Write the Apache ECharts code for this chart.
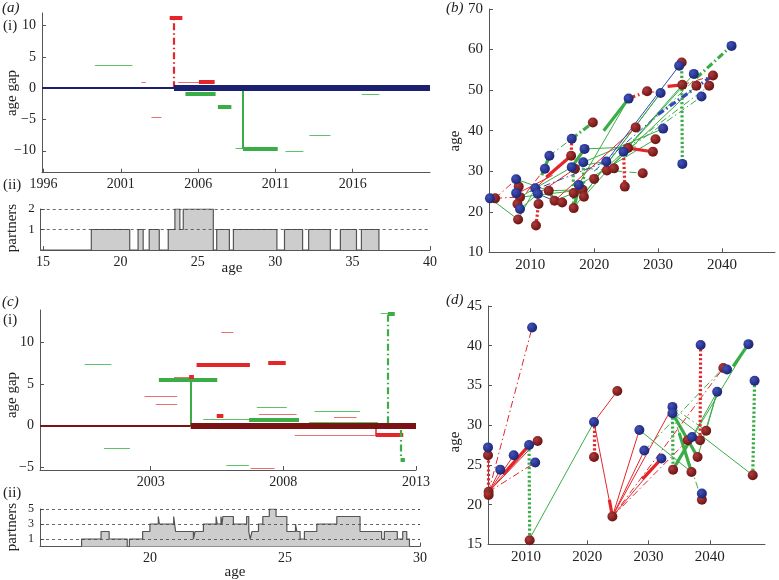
<!DOCTYPE html>
<html><head><meta charset="utf-8">
<script src="https://cdn.jsdelivr.net/npm/echarts@6/dist/echarts.min.js"></script>
<style>html,body{margin:0;padding:0;background:#fff}#c{width:779px;height:580px}</style>
</head><body><div id="c"></div>
<script>
// ---------- panel (a)(i): age gap segments [start year, end year, gap] ----------
const aXTicks = [1996, 2001, 2006, 2011, 2016];
const aYTicks = [-10, -5, 0, 5, 10];
const aBaseThin = [[1995.9, 2004.44, 0]];
const aBaseThick = [[2004.44, 2021.0, 0]];
const aGreenThin = [[1999.32, 2001.75, 3.6], [2008.42, 2008.9, -9.66], [2011.65, 2012.81, -10.0], [2013.2, 2014.56, -7.47], [2016.58, 2017.72, -0.9]];
const aGreenThick = [[2005.18, 2007.13, -0.9], [2007.28, 2008.15, -3.0], [2008.9, 2011.15, -9.7]];
const aRedThin = [[2002.33, 2002.61, 0.9], [2002.98, 2003.63, -4.6], [2004.7, 2006.1, 1.0]];
const aRedThick = [[2004.16, 2004.98, 11.2], [2006.05, 2007.07, 1.0]];
// verticals [year, from gap, to gap]
const aRedDashDotV = [[2004.44, 0, 11.2]];
const aGreenSolidV = [[2008.9, 0, -9.7]];

// ---------- panel (a)(ii): partner count steps ----------
const aAgeTicks = [15, 20, 25, 30, 35, 40];
const aStepAge = [18.12, 20.60, 21.14, 21.47, 21.86, 22.51, 23.09, 23.52, 23.84, 24.06, 26.00, 26.22, 27.04, 27.30, 30.11, 30.60, 31.77, 32.16, 33.56, 34.21, 35.25, 35.57, 36.70];
const aStepCount = [1, 0, 1, 0, 1, 0, 1, 2, 1, 2, 0, 1, 0, 1, 0, 1, 0, 1, 0, 1, 0, 1, 0];
const aPartnerTicks = [1, 2];

// ---------- panel (b): network (year, age) ----------
const bXTicks = [2010, 2020, 2030, 2040];
const bBlue = [[2003.7,23.3],[2007.8,28.0],[2007.8,24.6],[2008.4,20.7],[2010.8,25.8],[2011.2,24.4],[2012.3,30.6],[2013.0,33.8],[2016.5,38.0],[2016.5,31.0],[2017.6,26.6],[2018.3,32.2],[2018.5,35.5],[2021.9,32.4],[2024.6,34.8],[2025.4,47.9],[2030.4,49.3],[2030.8,40.5],[2033.3,56.0],[2033.8,31.8],[2035.6,54.0],[2036.8,48.4],[2041.5,60.9]];
const bMaroon = [[2004.5,23.3],[2008.2,26.2],[2008.4,23.6],[2008.0,21.9],[2008.1,18.1],[2011.3,21.9],[2010.9,16.6],[2012.9,25.2],[2013.8,22.7],[2015.0,22.3],[2016.4,33.8],[2017.0,30.6],[2016.8,24.6],[2018.2,25.4],[2018.4,23.7],[2016.8,20.9],[2020.0,28.1],[2019.8,42.0],[2022.0,30.2],[2023.1,30.7],[2024.8,26.2],[2025.3,35.7],[2026.5,40.8],[2027.6,29.5],[2028.3,49.7],[2029.2,34.8],[2029.6,37.9],[2033.7,56.8],[2033.8,51.3],[2036.0,51.1],[2038.0,51.1],[2038.6,53.6]];
// links [x1, y1, x2, y2]
const bGreenThin = [[2003.7,23.3,2008.1,18.1],[2007.8,28.0,2012.9,25.2],[2008.4,20.7,2011.2,24.4],[2008.4,23.6,2016.5,31.0],[2008.4,23.6,2018.2,25.4],[2008.1,18.1,2010.8,25.8],[2016.8,24.6,2025.4,47.9],[2016.8,20.9,2030.4,49.3],[2017.6,26.6,2029.6,37.9],[2018.3,32.2,2030.8,40.5],[2018.4,23.7,2035.6,54.0],[2022.0,30.2,2036.0,51.1],[2024.6,34.8,2033.8,51.3],[2016.5,31.0,2021.9,32.4],[2018.5,35.5,2026.5,36.0],[2019.0,25.5,2030.4,49.3],[2013.8,22.7,2016.8,24.6],[2012.9,25.2,2018.2,25.4],[2020.0,28.1,2024.6,34.8]];
const bGreenThick = [[2011.8,29.0,2013.0,33.8],[2016.5,31.0,2018.5,35.5],[2012.9,25.2,2013.8,22.7],[2021.5,40.0,2025.4,47.9],[2016.8,20.9,2017.8,27.0]];
const bGreenDashDot = [[2013.0,33.8,2016.5,38.0],[2016.5,31.0,2027.6,29.5],[2025.0,35.5,2038.0,51.1],[2024.0,34.0,2036.8,48.4],[2025.0,36.0,2036.0,53.0]];
const bGreenDashDotThick = [[2016.5,38.0,2019.8,42.0],[2036.0,53.0,2041.5,60.9]];
const bGreenDotted = [[2033.7,56.8,2033.8,31.8],[2016.8,20.9,2016.7,31.0],[2018.4,23.7,2018.3,32.2]];
const bRedThin = [[2010.8,25.8,2016.4,33.8],[2013.8,22.7,2026.5,40.8],[2008.0,24.5,2013.5,29.0],[2011.2,24.4,2017.0,30.6]];
const bRedDashDot = [[2004.5,23.3,2007.8,28.0],[2008.0,21.9,2012.3,30.6],[2028.3,49.7,2030.4,49.3],[2033.8,51.3,2038.6,53.6],[2004.5,23.3,2008.0,23.6]];
const bRedThick = [[2012.5,28.5,2016.4,33.8],[2025.3,35.7,2029.2,34.8],[2031.5,50.9,2033.8,51.3]];
const bRedDashDotThick = [[2025.4,47.9,2028.3,49.7]];
const bRedDotted = [[2016.5,38.0,2016.4,33.8],[2010.9,16.6,2011.3,21.9],[2024.8,26.2,2024.6,34.8],[2008.0,21.9,2008.2,26.2]];
const bBlueThin = [[2021.9,32.4,2033.3,56.0],[2011.2,24.4,2013.8,22.7]];
const bBlueDashDot = [[2010.0,25.0,2021.9,32.4],[2020.0,30.0,2030.0,44.0]];
const bBlueDashDotThick = [[2030.0,44.0,2038.6,53.6]];

// ---------- panel (c)(i) ----------
const cXTicks = [2003, 2008, 2013];
const cYTicks = [-5, 0, 5, 10];
const cBaseThin = [[1998.83, 2004.51, 0]];
const cBaseThick = [[2004.51, 2013.0, 0]];
const cGreenThin = [[2000.51, 2001.52, 7.28], [2001.24, 2002.22, -2.64], [2004.98, 2006.71, 0.72], [2007.0, 2008.13, 2.24], [2009.18, 2010.89, 1.68], [2008.97, 2011.57, 0.48], [2011.67, 2011.94, 13.4], [2005.85, 2006.7, -4.7]];
const cGreenThick = [[2003.31, 2005.51, 5.44], [2006.71, 2008.59, 0.72], [2011.94, 2012.2, 13.4], [2012.42, 2012.58, -4.0]];
const cRedThin = [[2002.77, 2004.0, 3.48], [2003.19, 2004.0, 2.56], [2003.88, 2004.63, 5.76], [2005.66, 2006.12, 11.16], [2007.08, 2008.5, 1.36], [2009.91, 2010.76, 0.96], [2008.43, 2011.52, -1.12], [2006.77, 2007.67, -5.05]];
const cRedThick = [[2004.45, 2004.63, 5.8], [2004.73, 2006.74, 7.28], [2005.49, 2005.74, 1.2], [2007.43, 2008.09, 7.52], [2011.48, 2012.52, -1.12]];
const cGreenSolidV = [[2004.51, 0, 5.44]];
const cRedSolidV = [[2011.48, 0, -1.12]];
const cGreenDashDotV = [[2011.94, 0.3, 13.4], [2012.42, -0.5, -4.0]];

// ---------- panel (c)(ii) ----------
const cAgeTicks = [20, 25, 30];
const cStepAge = [17.47, 18.19, 18.49, 19.16, 19.24, 19.73, 20.0, 20.31, 20.35, 20.88, 20.95, 21.61, 21.67, 21.98, 22.45, 22.49, 22.63, 22.67, 22.70, 23.09, 23.58, 23.66, 23.71, 23.78, 24.02, 24.18, 24.42, 24.67, 25.07, 25.39, 25.44, 25.56, 25.72, 26.18, 26.92, 27.78, 28.58, 28.68, 29.16, 29.36, 29.51, 29.61];
const cStepCount = [1, 2, 1, 0, 1, 2, 3, 4, 3, 4, 2, 1, 2, 3, 4, 3, 4, 3, 4, 3, 4, 2, 1, 2, 3, 4, 5, 4, 2, 3, 2, 1, 2, 3, 4, 2, 1, 2, 1, 2, 1, 0];
const cPartnerTicks = [1, 3, 5];

// ---------- panel (d) ----------
const dXTicks = [2010, 2020, 2030, 2040];
const dBlue = [[2003.8,27.2],[2005.8,24.4],[2008.0,26.2],[2010.5,27.5],[2011.5,25.3],[2011.0,42.3],[2021.1,30.4],[2028.5,29.4],[2029.3,26.8],[2032.1,25.8],[2033.9,32.3],[2033.9,31.5],[2037.1,28.5],[2038.5,40.1],[2038.7,21.4],[2041.2,34.2],[2042.8,37.0],[2046.3,40.2],[2047.3,35.6]];
const dMaroon = [[2003.8,26.2],[2003.9,21.6],[2003.9,21.2],[2011.9,28.0],[2010.6,15.5],[2024.9,34.3],[2021.1,26.0],[2024.1,18.5],[2034.0,24.4],[2036.4,28.1],[2037.0,24.1],[2038.0,26.0],[2038.4,28.1],[2038.7,20.6],[2039.4,29.3],[2042.2,37.2],[2047.0,23.7]];
const dRedThin = [[2003.9,21.6,2005.8,24.4],[2003.9,21.6,2008.0,26.2],[2003.9,21.6,2010.5,27.5],[2021.1,30.4,2024.1,18.5],[2021.1,30.4,2024.9,34.3],[2024.1,18.5,2028.5,29.4],[2024.1,18.5,2029.3,26.8],[2024.1,18.5,2033.9,32.3],[2024.1,18.5,2032.1,25.8],[2003.9,21.6,2011.9,28.0]];
const dRedThick = [[2006.3,23.8,2010.3,27.3],[2029.0,23.2,2032.0,25.7],[2023.6,20.6,2024.1,18.5]];
const dRedDashDot = [[2003.9,21.6,2011.0,42.3],[2003.9,21.6,2011.5,25.3],[2024.1,18.5,2042.2,37.2],[2024.1,18.5,2036.4,28.1]];
const dRedDotted = [[2003.8,27.2,2003.8,21.6],[2021.1,30.4,2021.1,26.0],[2038.5,40.1,2038.4,28.1]];
const dGreenThin = [[2010.5,27.5,2011.9,28.0],[2010.6,15.7,2021.1,30.4],[2028.5,29.4,2037.0,24.1],[2033.9,31.5,2047.0,23.7],[2034.0,24.4,2046.3,40.2],[2038.0,26.0,2041.2,34.2],[2039.4,29.3,2041.2,34.2],[2037.1,28.5,2041.2,34.2]];
const dGreenThick = [[2034.0,24.4,2037.1,28.5],[2033.9,31.5,2038.0,26.0],[2043.8,37.4,2046.3,40.2],[2035.0,29.0,2037.0,24.1]];
const dGreenDashDot = [[2029.3,26.8,2042.2,37.2],[2033.9,31.5,2038.7,20.6],[2033.9,32.3,2039.4,29.3]];
const dGreenDotted = [[2010.5,27.5,2010.6,15.7],[2033.9,31.5,2034.0,24.4],[2047.3,35.6,2047.0,23.7]];

// ---------- styling ----------
const F = 'Liberation Serif';
const GREEN = '#3aad46', GREEN_L = '#5fc266', RED = '#e4262b', RED_L = '#e97070', NAVY = '#1b2170', MAROON = '#7a1414', BLUE = '#3347b5';
const DASHDOT = [7, 3, 1.5, 3];
const DOT = [2.2, 2.2];
const AX = '#555';
function fmt(v) { return v < 0 ? '\u2212' + (-v) : String(v); }

function xAx(gi, min, max, ticks, fs) {
  return { type: 'value', gridIndex: gi, min: min, max: max,
    axisLine: { show: true, onZero: false, lineStyle: { color: AX, width: 1 } },
    axisTick: { show: true, inside: true, length: 4, customValues: ticks, lineStyle: { color: AX } },
    axisLabel: { customValues: ticks, fontFamily: F, fontSize: fs, color: '#222', margin: 5, formatter: fmt },
    splitLine: { show: false } };
}
function yAx(gi, min, max, ticks, fs) {
  return { type: 'value', gridIndex: gi, min: min, max: max,
    axisLine: { show: true, onZero: false, lineStyle: { color: AX, width: 1 } },
    axisTick: { show: true, inside: true, length: 4, customValues: ticks, lineStyle: { color: AX } },
    axisLabel: { customValues: ticks, fontFamily: F, fontSize: fs, color: '#222', margin: 6, formatter: fmt },
    splitLine: { show: false } };
}
function linesSeries(gi, coordsList, color, width, type, z) {
  return { type: 'lines', coordinateSystem: 'cartesian2d', xAxisIndex: gi, yAxisIndex: gi,
    silent: true, z: z || 2, polyline: false,
    lineStyle: { color: color, width: width, type: type || 'solid', opacity: 1, curveness: 0, cap: 'butt' },
    data: coordsList.map(function (c) { return { coords: c }; }) };
}
function hSeg(gi, arr, color, width, type, z) {
  return linesSeries(gi, arr.map(function (s) { return [[s[0], s[2]], [s[1], s[2]]]; }), color, width, type, z);
}
function vSeg(gi, arr, color, width, type, z) {
  return linesSeries(gi, arr.map(function (s) { return [[s[0], s[1]], [s[0], s[2]]]; }), color, width, type, z);
}
function dSeg(gi, arr, color, width, type, z) {
  return linesSeries(gi, arr.map(function (s) { return [[s[0], s[1]], [s[2], s[3]]]; }), color, width, type, z);
}
function stepSeries(gi, startX, ages, counts, marks) {
  const data = [[startX, 0]].concat(ages.map(function (a, i) { return [a, counts[i]]; }));
  return { type: 'line', xAxisIndex: gi, yAxisIndex: gi, step: 'end', symbol: 'none', silent: true, z: 3,
    lineStyle: { color: '#555', width: 1.2 }, areaStyle: { color: '#cdcdcd', opacity: 1 },
    data: data,
    markLine: { silent: true, symbol: 'none', label: { show: false }, animation: false,
      lineStyle: { type: [3, 3], color: '#444', width: 0.8 },
      data: marks.map(function (m) { return { yAxis: m }; }) } };
}
function grad(c1, c2) {
  return { type: 'radial', x: 0.35, y: 0.35, r: 0.75, colorStops: [{ offset: 0, color: c1 }, { offset: 1, color: c2 }] };
}
function pts(gi, data, fill) {
  return { type: 'scatter', xAxisIndex: gi, yAxisIndex: gi, symbolSize: 10, silent: true, z: 5,
    itemStyle: { color: fill, opacity: 1 }, data: data };
}
const blueFill = grad('#4252b8', '#17206e');
const maroonFill = grad('#b03a3a', '#631010');

const series = [
  // (a)(i)
  hSeg(0, aGreenThin, GREEN_L, 1.2), hSeg(0, aGreenThick, GREEN, 4),
  hSeg(0, aRedThin, RED_L, 1.2), hSeg(0, aRedThick, RED, 4),
  vSeg(0, aRedDashDotV, RED, 2.2, DASHDOT), vSeg(0, aGreenSolidV, GREEN, 2),
  hSeg(0, aBaseThin, NAVY, 2, 'solid', 4), hSeg(0, aBaseThick, NAVY, 6, 'solid', 4),
  // (a)(ii)
  stepSeries(1, 14.85, aStepAge, aStepCount, aPartnerTicks),
  // (b)
  dSeg(2, bGreenThin, GREEN, 1), dSeg(2, bGreenThick, GREEN, 3.2),
  dSeg(2, bGreenDashDot, GREEN, 1, DASHDOT), dSeg(2, bGreenDashDotThick, GREEN, 3.2, DASHDOT),
  dSeg(2, bRedThin, RED, 1), dSeg(2, bRedDashDot, RED, 1, DASHDOT),
  dSeg(2, bRedThick, RED, 3.2), dSeg(2, bRedDashDotThick, RED, 3.2, DASHDOT),
  dSeg(2, bBlueThin, BLUE, 1), dSeg(2, bBlueDashDot, BLUE, 1, DASHDOT), dSeg(2, bBlueDashDotThick, BLUE, 3.2, DASHDOT),
  dSeg(2, bRedDotted, RED, 3.2, DOT, 3), dSeg(2, bGreenDotted, GREEN, 3.2, DOT, 3),
  pts(2, bMaroon, maroonFill), pts(2, bBlue, blueFill),
  // (c)(i)
  hSeg(3, cGreenThin, GREEN_L, 1.2), hSeg(3, cGreenThick, GREEN, 4),
  hSeg(3, cRedThin, RED_L, 1.2), hSeg(3, cRedThick, RED, 4),
  vSeg(3, cGreenSolidV, GREEN, 2), vSeg(3, cRedSolidV, RED, 1.5), vSeg(3, cGreenDashDotV, GREEN, 2.2, DASHDOT),
  hSeg(3, cBaseThin, MAROON, 2, 'solid', 4), hSeg(3, cBaseThick, MAROON, 6, 'solid', 4),
  // (c)(ii)
  stepSeries(4, 15.93, cStepAge, cStepCount, cPartnerTicks),
  // (d)
  dSeg(5, dGreenThin, GREEN, 1), dSeg(5, dGreenThick, GREEN, 3.2), dSeg(5, dGreenDashDot, GREEN, 1, DASHDOT),
  dSeg(5, dRedThin, RED, 1), dSeg(5, dRedThick, RED, 3.2), dSeg(5, dRedDashDot, RED, 1, DASHDOT),
  dSeg(5, dRedDotted, RED, 3.2, DOT, 3), dSeg(5, dGreenDotted, GREEN, 3.2, DOT, 3),
  pts(5, dMaroon, maroonFill), pts(5, dBlue, blueFill)
];

function txt(x, y, t, opt) {
  opt = opt || {};
  return { type: 'text', x: x, y: y, rotation: opt.rot || 0, silent: true,
    style: { text: t, fontFamily: F, fontSize: opt.fs || 15, fontStyle: opt.it ? 'italic' : 'normal',
      fill: '#222', align: opt.align || 'left', verticalAlign: 'middle' } };
}

const option = {
  animation: false,
  grid: [
    { left: 42, top: 13, width: 388, height: 159.7 },
    { left: 40.7, top: 209, width: 389.3, height: 41 },
    { left: 489, top: 9, width: 286, height: 243.3 },
    { left: 40, top: 310, width: 376, height: 160 },
    { left: 40, top: 509, width: 380, height: 37.5 },
    { left: 488, top: 306, width: 277, height: 238.3 }
  ],
  xAxis: [
    xAx(0, 1995.9, 2021, aXTicks, 14),
    xAx(1, 14.85, 40, aAgeTicks, 14),
    xAx(2, 2003.55, 2048.3, bXTicks, 15),
    xAx(3, 1998.83, 2013.0, cXTicks, 14),
    xAx(4, 15.93, 30, cAgeTicks, 14),
    xAx(5, 2003.8, 2049, dXTicks, 15)
  ],
  yAxis: [
    yAx(0, -13.5, 12, aYTicks, 14),
    yAx(1, 0, 2, aPartnerTicks, 13),
    Object.assign(yAx(2, 10, 70, [10, 20, 30, 40, 50, 60, 70], 15), { interval: 10 }),
    yAx(3, -5.27, 13.8, cYTicks, 14),
    yAx(4, 0, 5, cPartnerTicks, 12),
    Object.assign(yAx(5, 15, 45, [15, 20, 25, 30, 35, 40, 45], 15), { interval: 5 })
  ],
  series: series,
  graphic: [
    txt(2, 8, '(a)', { it: true }),
    txt(3, 26, '(i)'),
    txt(12, 93, 'age gap', { rot: Math.PI / 2, align: 'center' }),
    txt(3, 185, '(ii)'),
    txt(12, 228, 'partners', { rot: Math.PI / 2, align: 'center' }),
    txt(232, 268, 'age', { align: 'center' }),
    txt(446, 8, '(b)', { it: true }),
    txt(455, 141, 'age', { rot: Math.PI / 2, align: 'center' }),
    txt(2, 302, '(c)', { it: true }),
    txt(3, 320, '(i)'),
    txt(12, 395, 'age gap', { rot: Math.PI / 2, align: 'center' }),
    txt(3, 493, '(ii)'),
    txt(12, 527, 'partners', { rot: Math.PI / 2, align: 'center' }),
    txt(235, 572, 'age', { align: 'center' }),
    txt(446, 300, '(d)', { it: true }),
    txt(455, 442, 'age', { rot: Math.PI / 2, align: 'center' })
  ]
};
const chart = echarts.init(document.getElementById('c'));
chart.setOption(option);
</script></body></html>
